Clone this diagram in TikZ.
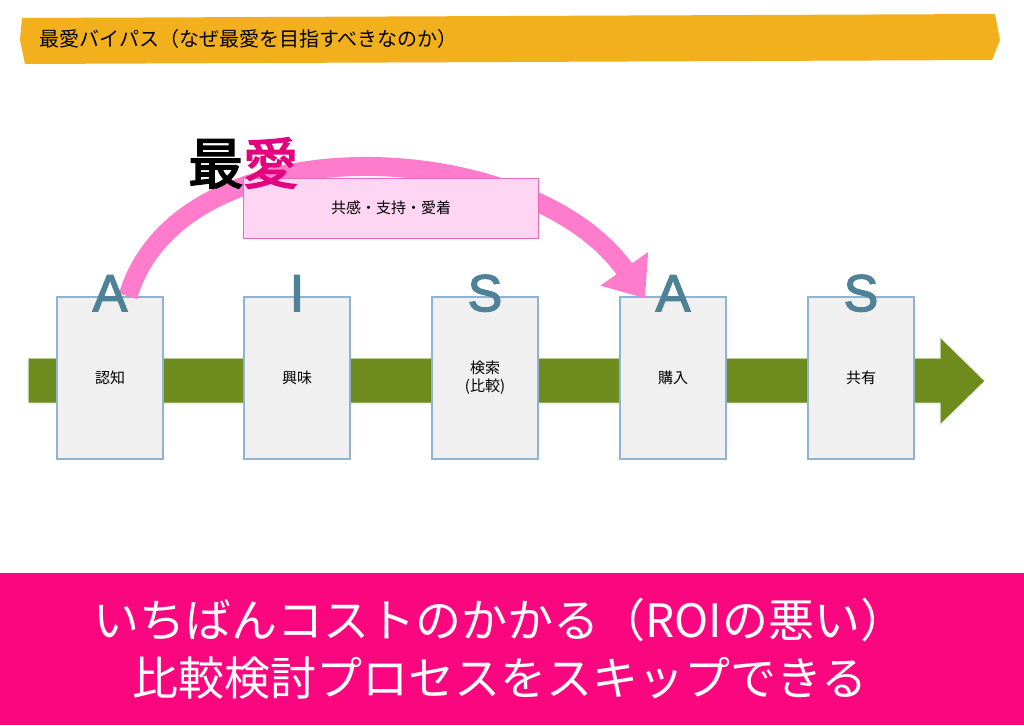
\documentclass[tikz,border=0pt]{standalone}
\usepackage{fontspec}
\setmainfont{Noto Sans CJK JP}
\newfontfamily\heavy{Noto Sans CJK JP}[FakeBold=3]
\newfontfamily\latinbold{Liberation Sans}[FakeBold=2.5]
\usetikzlibrary{shapes,arrows.meta,positioning}
\definecolor{banner}{HTML}{F2B01C}
\definecolor{flow}{HTML}{6E8B1E}
\definecolor{boxline}{HTML}{8FB3D0}
\definecolor{letter}{HTML}{4F8297}
\definecolor{arc}{HTML}{FF7BCB}
\definecolor{tagfill}{HTML}{FFD5F4}
\definecolor{tagline}{HTML}{E46BBE}
\definecolor{band}{HTML}{FA0780}
\definecolor{love}{HTML}{E5007E}
\tikzset{
  stage/.style={draw=boxline, line width=1.5pt, fill=black!6, minimum width=106pt, minimum height=162pt, font=\fontsize{15}{18}\selectfont, align=center},
  initial/.style={font=\latinbold\fontsize{52}{52}\selectfont, text=letter, inner sep=0pt},
}
\begin{document}
\begin{tikzpicture}[x=1pt,y=-1pt]
\useasboundingbox (0,0) rectangle (1024,725);
\fill[white] (0,0) rectangle (1024,725);
% title banner
\fill[banner] (22,18) -- (995,14) -- (1000,40) -- (992,60) -- (25,64) -- (20,40) -- cycle;
\node[anchor=west, font=\fontsize{20}{24}\selectfont] (title) at (36,39) {最愛バイパス（なぜ最愛を目指すべきなのか）};
% flow arrow
\fill[flow, draw=white!85!flow, line width=1pt] (28,358) -- (940,358) -- (940,337) -- (985,381) -- (940,425) -- (940,403) -- (28,403) -- cycle;
% stages
\node[stage] (s1) at (110,378) {認知};
\node[stage] (s2) at (297,378) {興味};
\node[stage] (s3) at (485,378) {検索\\(比較)};
\node[stage] (s4) at (673,378) {購入};
\node[stage] (s5) at (861,378) {共有};
% bypass arc
\draw[arc, line width=19pt, -{Triangle[length=36pt,width=56pt]}]
  ([xshift=18pt]s1.north) .. controls (180,120) and (530,135) .. ([xshift=-28pt,yshift=-2pt]s4.north);
\node[draw=tagline, line width=1pt, fill=tagfill, minimum width=295pt, minimum height=60pt, font=\fontsize{15}{18}\selectfont] (tag) at (391,208) {共感・支持・愛着};
\node[anchor=west, font=\heavy\fontsize{55}{55}\selectfont, inner sep=0pt] (love) at (188,163) {最\textcolor{love}{愛}};
% initials
\foreach \s/\l in {s1/A, s2/I, s3/S, s4/A, s5/S}
  \node[initial] (\s l) at ([yshift=3pt]\s.north) {\l};
% bottom message
\fill[band] (0,573) rectangle (1024,725);
\node[text=white, align=center, font=\fontsize{46}{58}\selectfont] (msg) at (500,649) {いちばんコストのかかる（ROIの悪い）\\比較検討プロセスをスキップできる};
\end{tikzpicture}
\end{document}
